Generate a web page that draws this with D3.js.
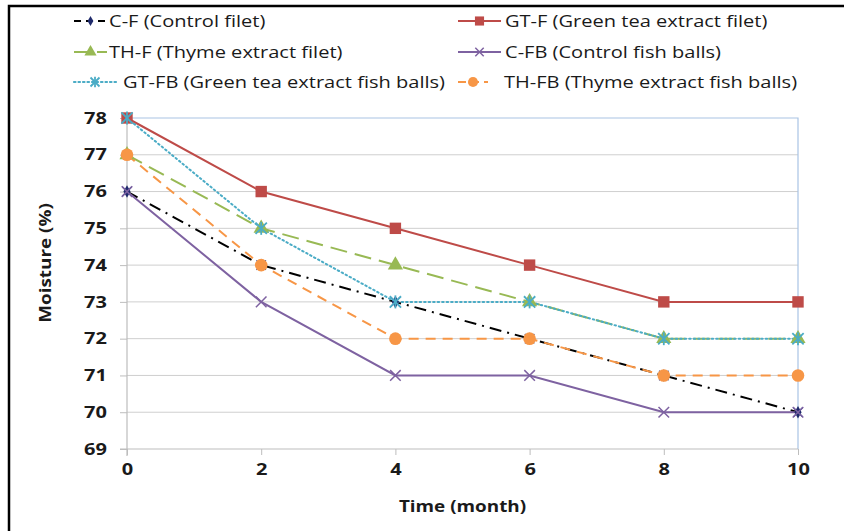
<!DOCTYPE html>
<html>
<head>
<meta charset="utf-8">
<script src="https://cdn.jsdelivr.net/npm/d3@7"></script>
<style>
  html, body { margin: 0; padding: 0; background: #fff; }
  svg { display: block; }
  text { font-family: "Open Sans", "Liberation Sans", sans-serif; fill: #1a1a1a; }
</style>
</head>
<body>
<svg id="chart" width="844" height="531"></svg>
<script>
// Storage time (months)
const months = [0, 2, 4, 6, 8, 10];

// Moisture (%) per sample
const cF  = [76, 74, 73, 72, 71, 70];
const gtF = [78, 76, 75, 74, 73, 73];
const thF = [77, 75, 74, 73, 72, 72];
const cFB = [76, 73, 71, 71, 70, 70];
const gtFB = [78, 75, 73, 73, 72, 72];
const thFB = [77, 74, 72, 72, 71, 71];

const seriesNames = [
  "C-F (Control filet)",
  "GT-F (Green tea extract filet)",
  "TH-F (Thyme extract filet)",
  "C-FB (Control fish balls)",
  "GT-FB (Green tea extract fish balls)",
  "TH-FB (Thyme extract fish balls)"
];

const yTicks = [69, 70, 71, 72, 73, 74, 75, 76, 77, 78];
const xTicks = [0, 2, 4, 6, 8, 10];

const series = [
  { name: seriesNames[0], values: cF,   color: "#000000", dash: "12,6,2,6", marker: "diamond", mcolor: "#1f2a6b", legDash: "7,5" },
  { name: seriesNames[1], values: gtF,  color: "#be4b48", dash: null,       marker: "square",  mcolor: "#be4b48", legDash: null },
  { name: seriesNames[2], values: thF,  color: "#98b954", dash: "17,8",     marker: "triangle",mcolor: "#98b954", legDash: "17,6" },
  { name: seriesNames[3], values: cFB,  color: "#7e62a1", dash: null,       marker: "x",       mcolor: "#7e62a1", legDash: null },
  { name: seriesNames[4], values: gtFB, color: "#4bacc6", dash: "1.5,3",    marker: "star",    mcolor: "#4bacc6", legDash: "1.5,3" },
  { name: seriesNames[5], values: thFB, color: "#f79646", dash: "10,7",     marker: "circle",  mcolor: "#f79646", legDash: "8,5" }
];

// Horizontal stretch applied to the chart's lettering
const stretchLegend = 1.18;
const stretchTicks = 1.25;
const stretchTitle = 1.18;

const svg = d3.select("#chart");

// Outer frame (top and left edges)
svg.append("rect").attr("x", 9).attr("y", 6).attr("width", 860).attr("height", 560)
  .attr("fill", "none").attr("stroke", "#000").attr("stroke-width", 2.5);

const x = d3.scaleLinear().domain([0, 10]).range([127, 798]);
const y = d3.scaleLinear().domain([69, 78]).range([449, 118]);

// Horizontal gridlines
svg.append("g").selectAll("line").data(yTicks.filter(t => t !== 69 && t !== 78)).join("line")
  .attr("x1", x(0)).attr("x2", x(10))
  .attr("y1", d => y(d)).attr("y2", d => y(d))
  .attr("stroke", "#cfcfcf").attr("stroke-width", 1);

// Plot-area border (top and right)
svg.append("path")
  .attr("d", `M${x(0)},${y(78)}H${x(10)}V${y(69)}`)
  .attr("fill", "none").attr("stroke", "#a9c4e4").attr("stroke-width", 1.2);

// Y axis
const yAxis = d3.axisLeft(y).tickValues(yTicks).tickSize(7).tickPadding(13).tickFormat(d3.format("d"));
const gy = svg.append("g").attr("transform", `translate(${x(0)},0)`).call(yAxis);
gy.select(".domain").attr("stroke", "#bdbdbd").attr("stroke-width", 1.2).attr("d", `M0,${y(78)}V${y(69) + 7}`);
gy.selectAll(".tick line").attr("stroke", "#bdbdbd");
gy.selectAll(".tick text").attr("font-size", 16).attr("font-weight", "bold")
  .attr("font-family", "'Open Sans', sans-serif").attr("fill", "#1a1a1a")
  .attr("x", -20 / stretchTicks).attr("transform", `scale(${stretchTicks},1)`);

// X axis
const xAxis = d3.axisBottom(x).tickValues(xTicks).tickSize(6).tickPadding(9).tickFormat(d3.format("d"));
const gx = svg.append("g").attr("transform", `translate(0,${y(69)})`).call(xAxis);
gx.select(".domain").attr("stroke", "#bdbdbd").attr("stroke-width", 1.2).attr("d", `M${x(0) - 7},0H${x(10)}`);
gx.selectAll(".tick line").attr("stroke", "#bdbdbd");
gx.selectAll(".tick text").attr("font-size", 16).attr("font-weight", "bold")
  .attr("font-family", "'Open Sans', sans-serif").attr("fill", "#1a1a1a")
  .attr("transform", `scale(${stretchTicks},1)`);

// Axis titles
svg.append("text").attr("transform", `translate(${x(5)},512) scale(${stretchTitle},1)`)
  .attr("text-anchor", "middle")
  .attr("font-size", 16).attr("font-weight", "bold").text("Time (month)");
svg.append("text").attr("transform", `translate(51,263) rotate(-90) scale(${stretchTitle},1)`)
  .attr("text-anchor", "middle").attr("font-size", 16).attr("font-weight", "bold").text("Moisture (%)");

// Marker drawing
function drawMarker(g, type, color, s) {
  s = s || 1;
  if (type === "square") {
    g.append("path").attr("d", d3.symbol(d3.symbolSquare, 130 * s * s)()).attr("fill", color);
  } else if (type === "circle") {
    g.append("path").attr("d", d3.symbol(d3.symbolCircle, 125 * s * s)()).attr("fill", color);
  } else if (type === "triangle") {
    g.append("path").attr("d", d3.symbol(d3.symbolTriangle, 100 * s * s)()).attr("fill", color);
  } else if (type === "diamond") {
    g.append("path").attr("d", d3.symbol(d3.symbolDiamond, 45 * s * s)()).attr("fill", color);
  } else if (type === "x") {
    g.append("path").attr("d", d3.symbol(d3.symbolTimes, 75 * s * s)())
      .attr("fill", "none").attr("stroke", color).attr("stroke-width", 1.5);
  } else if (type === "star") {
    g.append("path").attr("d", d3.symbol(d3.symbolTimes, 85 * s * s)())
      .attr("fill", "none").attr("stroke", color).attr("stroke-width", 1.8);
    g.append("path").attr("d", `M0,${-6.5 * s}V${6.5 * s}`).attr("stroke", color).attr("stroke-width", 1.8);
  }
}

const line = d3.line().x((d, i) => x(months[i])).y(d => y(d));

series.forEach(s => {
  svg.append("path").datum(s.values).attr("d", line)
    .attr("fill", "none").attr("stroke", s.color).attr("stroke-width", 2)
    .attr("stroke-dasharray", s.dash).attr("stroke-linecap", s.marker === "star" ? "round" : "butt");
});
series.forEach(s => {
  s.values.forEach((v, i) => {
    const g = svg.append("g").attr("transform", `translate(${x(months[i])},${y(v)})`);
    drawMarker(g, s.marker, s.mcolor);
    if (s.marker === "diamond") {
      // C-F points: dark asterisk over the diamond
      g.append("path").attr("d", d3.symbol(d3.symbolTimes, 60)())
        .attr("fill", "none").attr("stroke", "#2c3a8a").attr("stroke-width", 1.3);
    }
  });
});

// Legend: sample position, sample length, text start
const legendPos = [
  { lx: 74,  ly: 21, w: 33, tx: 109 }, { lx: 458, ly: 21, w: 43, tx: 505 },
  { lx: 74,  ly: 52, w: 33, tx: 109 }, { lx: 458, ly: 52, w: 43, tx: 505 },
  { lx: 74,  ly: 82, w: 42, tx: 123 }, { lx: 458, ly: 82, w: 30, tx: 504 }
];
series.forEach((s, i) => {
  const p = legendPos[i];
  const g = svg.append("g").attr("transform", `translate(0,${p.ly})`);
  g.append("line").attr("x1", p.lx).attr("x2", p.lx + p.w).attr("y1", 0).attr("y2", 0)
    .attr("stroke", s.color).attr("stroke-width", 2.2)
    .attr("stroke-dasharray", s.legDash).attr("stroke-linecap", s.marker === "star" ? "round" : "butt");
  const m = g.append("g").attr("transform", `translate(${p.lx + p.w / 2},0)`);
  drawMarker(m, s.marker, s.mcolor, 0.8);
  g.append("text").attr("transform", `translate(${p.tx},0) scale(${stretchLegend},1)`)
    .attr("dy", "0.35em").attr("font-size", 17).text(s.name);
});
</script>
</body>
</html>
